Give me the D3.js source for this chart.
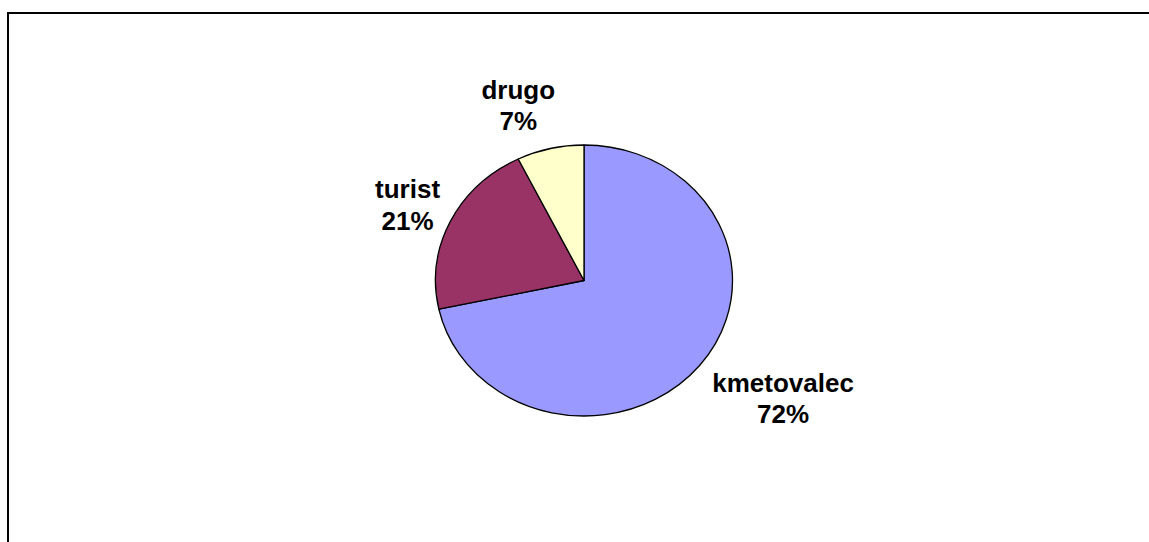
<!DOCTYPE html>
<html>
<head>
<meta charset="utf-8">
<script src="https://cdn.jsdelivr.net/npm/d3@7"></script>
<style>
  body { margin: 0; background: #fff; }
  text { font-family: "Liberation Sans", Arial, sans-serif; font-weight: bold; }
</style>
</head>
<body>
<div id="chart"></div>
<script>
// slice data, clockwise from 12 o'clock
var categories = ["kmetovalec", "turist", "drugo"];
var values = [71.6, 21.1, 7.3];
var colors = ["#9999ff", "#993366", "#ffffcc"];

var width = 1149, height = 542;

var svg = d3.select("#chart")
  .append("svg")
    .attr("width", width)
    .attr("height", height);

// chart area frame (only left and top edges are visible)
svg.append("path")
    .attr("d", "M8," + height + "V13H" + width)
    .attr("fill", "none")
    .attr("stroke", "#000")
    .attr("stroke-width", 2);

var cx = 584, cy = 280.5,
    rx = 148.5, ry = 135.5;

var total = d3.sum(values);
var formatPct = function(v) { return Math.round(v / total * 100) + "%"; };

var pie = d3.pie().sort(null).value(function(d) { return d; });
var arcs = pie(values);

var arc = d3.arc().innerRadius(0).outerRadius(rx);

// the pie is drawn as a circle and squashed vertically
var g = svg.append("g")
    .attr("transform", "translate(" + cx + "," + cy + ") scale(1," + (ry / rx) + ")");

g.selectAll("path")
  .data(arcs)
  .enter().append("path")
    .attr("d", arc)
    .attr("fill", function(d, i) { return colors[i]; })
    .attr("stroke", "#000")
    .attr("stroke-width", 1.3)
    .attr("vector-effect", "non-scaling-stroke")
    .attr("stroke-linejoin", "round");

// label nudges from the slice's outer midpoint (Excel-like placement)
var labelShift = [[83.5, 26], [-42.7, -23.4], [-32, -50]];

var labels = svg.selectAll(".label")
  .data(arcs)
  .enter().append("text")
    .attr("class", "label")
    .attr("text-anchor", "middle")
    .attr("font-size", 26)
    .attr("fill", "#000")
    .attr("transform", function(d, i) {
      var a = (d.startAngle + d.endAngle) / 2;
      var px = cx + rx * Math.sin(a) + labelShift[i][0],
          py = cy - ry * Math.cos(a) + labelShift[i][1];
      return "translate(" + px + "," + py + ")";
    });

labels.append("tspan")
    .attr("x", 0)
    .attr("y", 0)
    .text(function(d, i) { return categories[i]; });

labels.append("tspan")
    .attr("x", 0)
    .attr("y", 31.6)
    .text(function(d) { return formatPct(d.value); });
</script>
</body>
</html>
